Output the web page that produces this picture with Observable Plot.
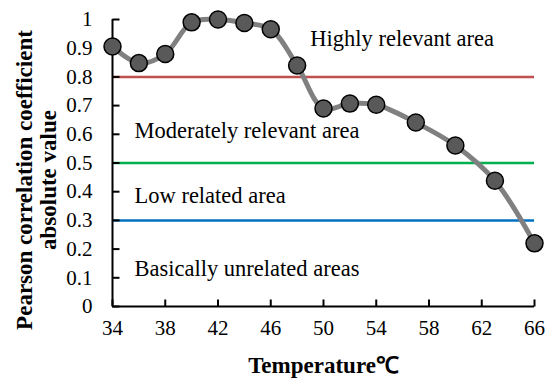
<!DOCTYPE html>
<html>
<head>
<meta charset="utf-8">
<script src="https://cdn.jsdelivr.net/npm/d3@7"></script>
<script src="https://cdn.jsdelivr.net/npm/@observablehq/plot@0.6"></script>
<style>
  html, body { margin: 0; padding: 0; background: #fff; }
</style>
</head>
<body>
<div id="chart"></div>
<script>
// Data
const temperatures = [34, 36, 38, 40, 42, 44, 46, 48, 50, 52, 54, 57, 60, 63, 66];
const coefficients = [0.906, 0.848, 0.88, 0.99, 1.0, 0.988, 0.966, 0.84, 0.69, 0.707, 0.703, 0.641, 0.561, 0.438, 0.22];
const thresholds = [0.8, 0.5, 0.3];
const thresholdColors = ["#C0504D", "#00B050", "#0070C0"];
const zoneLabels = ["Highly relevant area", "Moderately relevant area", "Low related area", "Basically unrelated areas"];
const zoneLabelX = [49.0, 35.67, 35.67, 35.67];
const zoneLabelY = [0.934, 0.613, 0.387, 0.132];
const xTicks = [34, 38, 42, 46, 50, 54, 58, 62, 66];
const yTicks = [0, 0.1, 0.2, 0.3, 0.4, 0.5, 0.6, 0.7, 0.8, 0.9, 1];
const xTitle = "Temperature℃";
const yTitle = "Pearson correlation coefficient\nabsolute value";

const points = temperatures.map((t, i) => ({t, v: coefficients[i]}));
const rules = thresholds.map((v, i) => ({v, c: thresholdColors[i]}));
const zones = zoneLabels.map((s, i) => ({s, x: zoneLabelX[i], y: zoneLabelY[i]}));

const serif = "'Liberation Serif', 'Times New Roman', serif";
const tickRight = {draw(ctx) { ctx.moveTo(0, 0); ctx.lineTo(7, 0); }};
const tickUp = {draw(ctx) { ctx.moveTo(0, 0); ctx.lineTo(0, -7); }};

const chart = Plot.plot({
  width: 546,
  height: 380,
  marginLeft: 112,
  marginRight: 12,
  marginTop: 19,
  marginBottom: 74,
  style: {fontFamily: serif, fontSize: "21px", color: "#000", background: "#fff"},
  x: {domain: [34, 66], axis: null},
  y: {domain: [0, 1], axis: null},
  marks: [
    Plot.ruleY(rules, {y: "v", x1: 34, x2: 66, stroke: "c", strokeWidth: 2.5}),
    Plot.ruleX([34], {y1: 0, y2: 1, stroke: "#000", strokeWidth: 2}),
    Plot.ruleY([0], {x1: 34, x2: 66, stroke: "#000", strokeWidth: 2}),
    Plot.dot(yTicks, {x: () => 34, y: d => d, symbol: tickRight, stroke: "#000", strokeWidth: 2, fill: "none"}),
    Plot.dot(xTicks, {x: d => d, y: () => 0, symbol: tickUp, stroke: "#000", strokeWidth: 2, fill: "none"}),
    Plot.axisY({ticks: yTicks, tickSize: 0, tickPadding: 20, tickFormat: d => String(d), fontSize: 21, fontFamily: serif, label: null}),
    Plot.axisX({ticks: xTicks, tickSize: 0, tickPadding: 14, tickFormat: d => String(d), fontSize: 21, fontFamily: serif, label: null}),
    Plot.text(zones, {x: "x", y: "y", text: "s", textAnchor: "start", fontSize: 22.5, fontFamily: serif, fill: "#000"}),
    Plot.line(points, {x: "t", y: "v", curve: "catmull-rom", stroke: "#808080", strokeWidth: 5}),
    Plot.dot(points, {x: "t", y: "v", r: 8.5, fill: "#595959", stroke: "#000", strokeWidth: 1.5}),
    Plot.text([xTitle], {frameAnchor: "bottom", textAnchor: "middle", lineAnchor: "middle", dy: 59, fontWeight: "bold", fontSize: 23, fontFamily: serif, fill: "#000"}),
    Plot.text([yTitle], {frameAnchor: "left", textAnchor: "middle", lineAnchor: "middle", rotate: -90, dx: -76, dy: 17, lineHeight: 1.02, fontWeight: "bold", fontSize: 23, fontFamily: serif, fill: "#000"})
  ]
});
document.getElementById("chart").appendChild(chart);
</script>
</body>
</html>
